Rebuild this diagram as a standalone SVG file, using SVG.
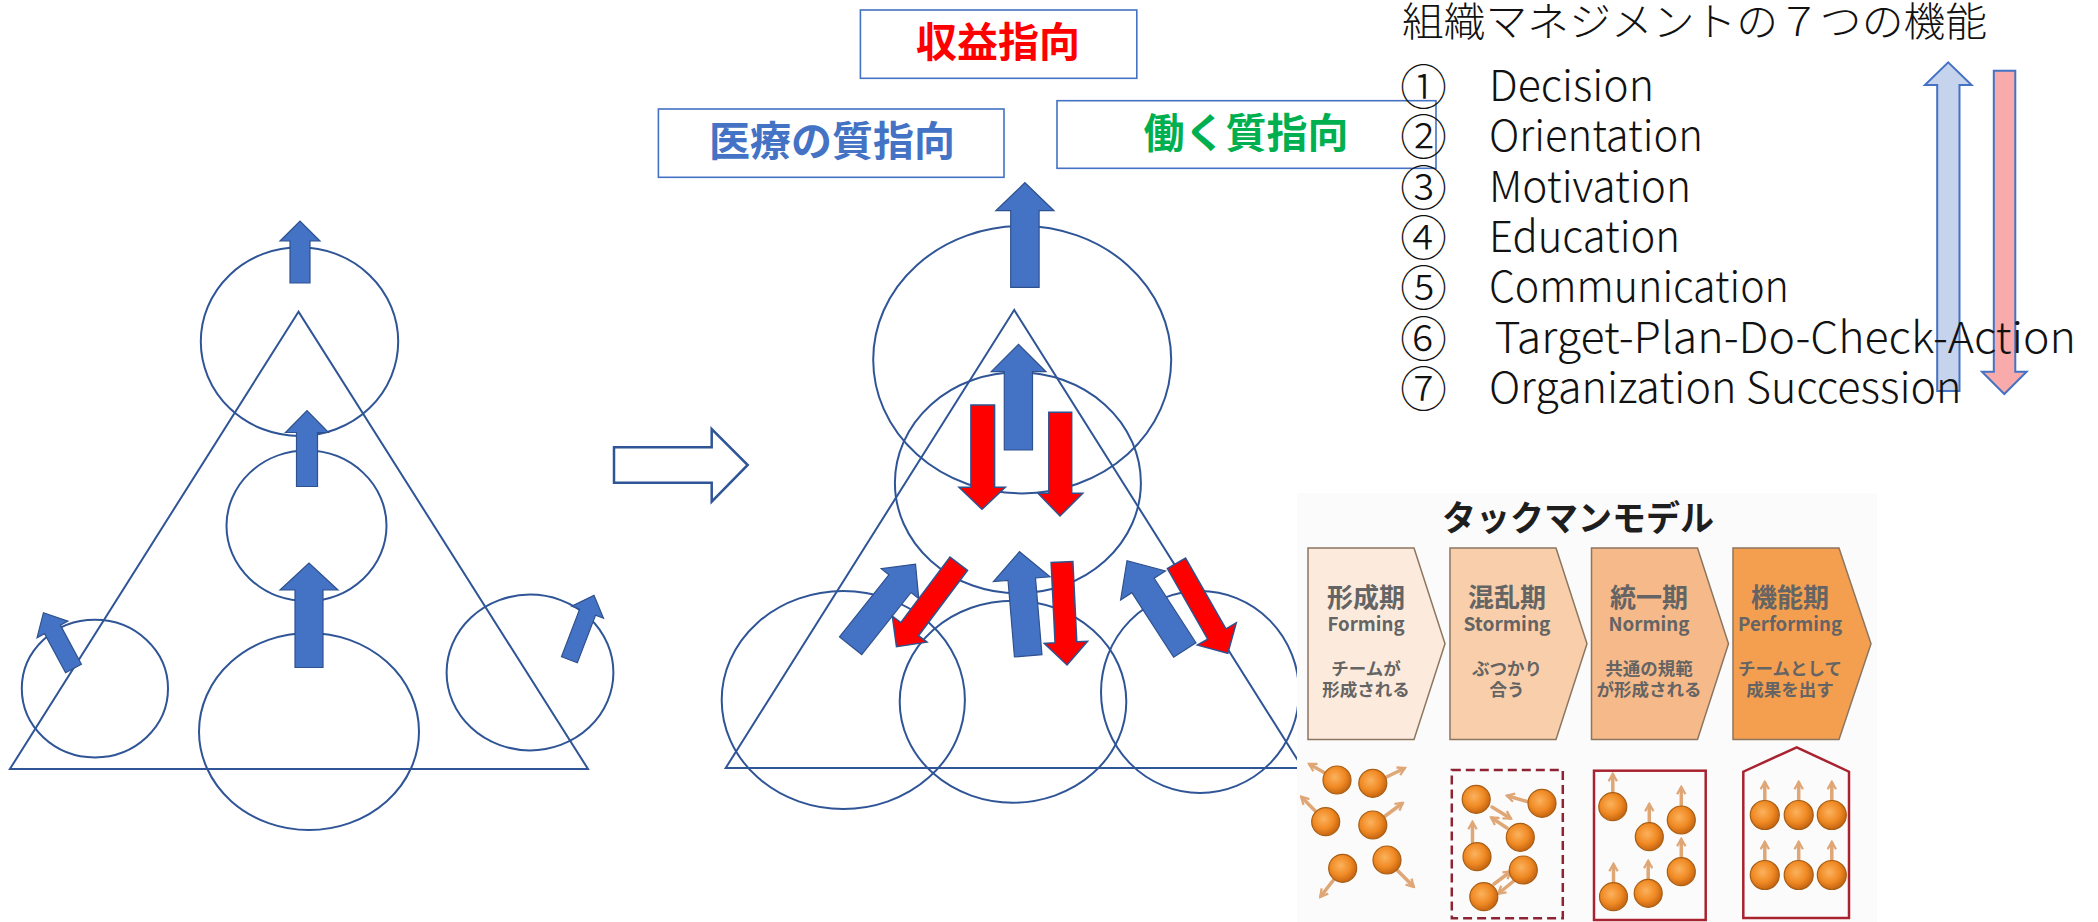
<svg xmlns="http://www.w3.org/2000/svg" width="2098" height="922" viewBox="0 0 2098 922">
  <style>
    .ln { fill: none; stroke: #2F5597; stroke-width: 2; }
    .ba { fill: #4472C4; stroke: #2F528F; stroke-width: 1.2; }
    .ra { fill: #FF0000; stroke: #2F528F; stroke-width: 1.5; }
    .box { fill: #FFFFFF; stroke: #4472C4; stroke-width: 1.6; }
    .lab { font-family: "Noto Sans CJK JP", "Noto Sans", sans-serif; font-weight: bold; font-size: 41px; text-anchor: middle; }
    .jp { font-family: "Noto Sans CJK JP", sans-serif; font-weight: 300; font-size: 40px; fill: #111; }
    .item { font-family: "Noto Sans CJK JP", "Liberation Sans", sans-serif; font-weight: 300; font-size: 43px; fill: #111; }
    .num { font-family: "Noto Sans CJK JP", sans-serif; font-weight: 300; font-size: 47px; fill: #111; }
    .chev { stroke: #8C7660; stroke-width: 1.5; }
    .ct { font-family: "Noto Sans CJK JP", "Noto Sans", sans-serif; font-weight: bold; text-anchor: middle; fill: #646464; }
    .t1 { font-size: 26px; }
    .t2 { font-size: 19px; }
    .t3 { font-size: 17.5px; }
    .ball { fill: url(#ballGrad); stroke: #A85E14; stroke-width: 1.2; }
    .tk { fill: none; stroke: #DFA676; stroke-width: 3.5; stroke-linecap: round; marker-end: url(#tkHead); }
  </style>
  <defs>
    <radialGradient id="ballGrad" cx="0.42" cy="0.4" r="0.6">
      <stop offset="0" stop-color="#FBB25E"/>
      <stop offset="0.6" stop-color="#F08A24"/>
      <stop offset="1" stop-color="#C76612"/>
    </radialGradient>
    <marker id="tkHead" viewBox="0 0 10 10" refX="7" refY="5" markerWidth="3" markerHeight="3" orient="auto">
      <path d="M1,1 L8,5 L1,9" fill="none" stroke="#DFA676" stroke-width="2.2" stroke-linejoin="miter"/>
    </marker>
  </defs>

  <rect width="2098" height="922" fill="#FFFFFF"/>

  <!-- left: before -->
  <g id="pyramid-before">
    <polygon class="ln" points="298.5,311.7 9.9,769 588,769"/>
    <ellipse class="ln" cx="299.5" cy="341.6" rx="98.7" ry="94.3"/>
    <ellipse class="ln" cx="306.5" cy="525.8" rx="80" ry="75.2"/>
    <ellipse class="ln" cx="309" cy="731.5" rx="110" ry="98.5"/>
    <ellipse class="ln" cx="94.9" cy="688.6" rx="73.1" ry="68.8"/>
    <ellipse class="ln" cx="530" cy="672.5" rx="83.4" ry="77.9"/>
    <polygon class="ba" points="290,283 290,241 280,241 300,221 320,241 310,241 310,283"/>
    <polygon class="ba" points="296.5,486.5 296.5,432.5 285.5,432.5 307,410.5 328.5,432.5 317.5,432.5 317.5,486.5"/>
    <polygon class="ba" points="295,667.5 295,590 280,590 309,563 338,590 323,590 323,667.5"/>
    <polygon class="ba" transform="translate(73.5,668.5) rotate(-28.3)" points="-9,0 -9,-44.4 -17.5,-44.4 0,-63.4 17.5,-44.4 9,-44.4 9,0"/>
    <polygon class="ba" transform="translate(569.4,659.8) rotate(20.9)" points="-8.5,0 -8.5,-51 -17,-51 0,-69 17,-51 8.5,-51 8.5,0"/>
  </g>

  <!-- transition arrow -->
  <g id="transition">
    <polygon fill="#FFFFFF" stroke="#2F5597" stroke-width="2.5" points="614,447.3 711.7,447.3 711.7,429 747.7,465 711.7,501.7 711.7,482.7 614,482.7"/>
  </g>

  <!-- orientation labels -->
  <g id="label-profit">
    <rect class="box" x="860.4" y="10" width="276.4" height="68.3"/>
    <text class="lab" x="998" y="57" fill="#FF0000">収益指向</text>
  </g>
  <g id="label-care">
    <rect class="box" x="658.4" y="109" width="345.6" height="68.3"/>
    <text class="lab" x="832" y="156" fill="#4472C4">医療の質指向</text>
  </g>
  <g id="label-work">
    <rect class="box" x="1057" y="100.7" width="379" height="67.6"/>
    <text class="lab" x="1246" y="148" fill="#00B050">働く質指向</text>
  </g>

  <!-- middle: after -->
  <g id="pyramid-after">
    <polygon class="ln" points="1014.2,310 725.7,768 1302.7,768"/>
    <ellipse class="ln" cx="1022.2" cy="359.7" rx="149" ry="133.7"/>
    <ellipse class="ln" cx="1017.9" cy="482.8" rx="123" ry="110.5"/>
    <ellipse class="ln" cx="843.3" cy="700" rx="121.6" ry="109"/>
    <ellipse class="ln" cx="1013" cy="701.7" rx="113.3" ry="101"/>
    <ellipse class="ln" cx="1200" cy="692" rx="99" ry="101"/>
    <polygon class="ba" points="1010.7,287.3 1010.7,210.7 995.8,210.7 1024.9,182.7 1054,210.7 1039.1,210.7 1039.1,287.3"/>
    <polygon class="ba" points="1004.3,450 1004.3,371.7 991.2,371.7 1018.5,344.3 1046,371.7 1032.5,371.7 1032.5,450"/>
    <polygon class="ra" points="970.9,405 994.6,405 994.6,487.3 1005.3,487.3 982,509.3 959,487.3 970.9,487.3"/>
    <polygon class="ra" points="1048.8,412.3 1071.7,412.3 1071.7,493.3 1082.8,493.3 1060,516 1038,493.3 1048.8,493.3"/>
    <polygon class="ba" transform="translate(850.6,645.7) rotate(38.5)" points="-14.2,0 -14.2,-79.3 -24,-79.3 0,-104.3 24,-79.3 14.2,-79.3 14.2,0"/>
    <polygon class="ra" transform="translate(958.8,563.7) rotate(-143.1)" points="-11,0 -11,-81.8 -21.7,-81.8 0,-103.8 21.7,-81.8 11,-81.8 11,0"/>
    <polygon class="ba" transform="translate(1028.2,655.8) rotate(-4.8)" points="-13.8,0 -13.8,-76.9 -28.4,-76.9 0,-104.5 28.4,-76.9 13.8,-76.9 13.8,0"/>
    <polygon class="ra" transform="translate(1062,562) rotate(177.2)" points="-10.9,0 -10.9,-80.4 -21.7,-80.4 0,-103.1 21.7,-80.4 10.9,-80.4 10.9,0"/>
    <polygon class="ba" transform="translate(1184.8,650) rotate(-32.9)" points="-13.3,0 -13.3,-76.9 -26.7,-76.9 0,-106.4 26.7,-76.9 13.3,-76.9 13.3,0"/>
    <polygon class="ra" transform="translate(1176.5,563.3) rotate(150.3)" points="-10.5,0 -10.5,-81.4 -22.4,-81.4 0,-103.6 22.4,-81.4 10.5,-81.4 10.5,0"/>
  </g>

  <!-- seven functions -->
  <g id="functions">
    <polygon fill="#C5D3EC" stroke="#4472C4" stroke-width="2" points="1937.2,391 1937.2,85 1924.9,85 1948.2,62.3 1971.6,85 1959.5,85 1959.5,391"/>
    <polygon fill="#F9AAAA" stroke="#4472C4" stroke-width="2" points="1993.8,70.7 2015.3,70.7 2015.3,371.7 2026.6,371.7 2004.3,394 1982,371.7 1993.8,371.7"/>
    <text class="jp" x="1402" y="36" textLength="585" lengthAdjust="spacingAndGlyphs">組織マネジメントの７つの機能</text>
    <text class="num" x="1400" y="104">①</text>
    <text class="num" x="1400" y="154.3">②</text>
    <text class="num" x="1400" y="204.6">③</text>
    <text class="num" x="1400" y="254.9">④</text>
    <text class="num" x="1400" y="305.2">⑤</text>
    <text class="num" x="1400" y="355.5">⑥</text>
    <text class="num" x="1400" y="405.8">⑦</text>
    <text class="item" x="1489" y="101" textLength="165" lengthAdjust="spacingAndGlyphs">Decision</text>
    <text class="item" x="1489" y="151.3" textLength="214" lengthAdjust="spacingAndGlyphs">Orientation</text>
    <text class="item" x="1489" y="201.6" textLength="202" lengthAdjust="spacingAndGlyphs">Motivation</text>
    <text class="item" x="1489" y="251.9" textLength="191" lengthAdjust="spacingAndGlyphs">Education</text>
    <text class="item" x="1489" y="302.2" textLength="300" lengthAdjust="spacingAndGlyphs">Communication</text>
    <text class="item" x="1494.5" y="352.5" textLength="581.5" lengthAdjust="spacingAndGlyphs">Target-Plan-Do-Check-Action</text>
    <text class="item" x="1489" y="402.8" textLength="472.5" lengthAdjust="spacingAndGlyphs">Organization Succession</text>
  </g>

  <!-- Tuckman model panel -->
  <g id="tuckman">
    <rect x="1297" y="493" width="580" height="429" fill="#FBFBFB"/>
    <text x="1578" y="531" font-family="Noto Sans CJK JP, sans-serif" font-weight="bold" font-size="35" fill="#1E1E1E" text-anchor="middle" textLength="272" lengthAdjust="spacingAndGlyphs">タックマンモデル</text>

    <g id="stage-forming">
      <path class="chev" fill="#FCEBDD" d="M1308,548 H1414 L1445,643.7 L1414,739.5 H1308 Z"/>
      <text class="ct t1" x="1366" y="607">形成期</text>
      <text class="ct t2" x="1366" y="631" textLength="77" lengthAdjust="spacingAndGlyphs">Forming</text>
      <text class="ct t3" x="1366" y="675">チームが</text>
      <text class="ct t3" x="1366" y="696">形成される</text>
    </g>
    <g id="stage-storming">
      <path class="chev" fill="#F9CFAB" d="M1450,548 H1556 L1587,643.7 L1556,739.5 H1450 Z"/>
      <text class="ct t1" x="1507" y="607">混乱期</text>
      <text class="ct t2" x="1507" y="631" textLength="87" lengthAdjust="spacingAndGlyphs">Storming</text>
      <text class="ct t3" x="1507" y="675">ぶつかり</text>
      <text class="ct t3" x="1507" y="696">合う</text>
    </g>
    <g id="stage-norming">
      <path class="chev" fill="#F6B989" d="M1591.5,548 H1697.5 L1728.5,643.7 L1697.5,739.5 H1591.5 Z"/>
      <text class="ct t1" x="1649" y="607">統一期</text>
      <text class="ct t2" x="1649" y="631" textLength="81" lengthAdjust="spacingAndGlyphs">Norming</text>
      <text class="ct t3" x="1649" y="675">共通の規範</text>
      <text class="ct t3" x="1649" y="696">が形成される</text>
    </g>
    <g id="stage-performing">
      <path class="chev" fill="#F49F50" d="M1733,548 H1839 L1871,643.7 L1839,739.5 H1733 Z"/>
      <text class="ct t1" x="1790" y="607" fill="#7A6656">機能期</text>
      <text class="ct t2" x="1790" y="631" fill="#7A6656" textLength="104" lengthAdjust="spacingAndGlyphs">Performing</text>
      <text class="ct t3" x="1790" y="675" fill="#7A6656">チームとして</text>
      <text class="ct t3" x="1790" y="696" fill="#7A6656">成果を出す</text>
    </g>

    <!-- forming: members scatter -->
    <g id="team-forming">
      <path class="tk" d="M1325,773 L1310,764.5"/>
      <path class="tk" d="M1386.5,777 L1404,768.5"/>
      <path class="tk" d="M1316,811.7 L1302,797.5"/>
      <path class="tk" d="M1385.2,816 L1402,803.5"/>
      <path class="tk" d="M1333.5,880 L1321,896"/>
      <path class="tk" d="M1397.5,870.5 L1413,886"/>
      <circle class="ball" cx="1337" cy="780" r="14"/>
      <circle class="ball" cx="1372.8" cy="783.3" r="14"/>
      <circle class="ball" cx="1325.7" cy="821.7" r="14"/>
      <circle class="ball" cx="1372.8" cy="825" r="14"/>
      <circle class="ball" cx="1342.7" cy="868.3" r="14"/>
      <circle class="ball" cx="1387" cy="860" r="14"/>
    </g>

    <!-- storming: members collide -->
    <g id="team-storming">
      <rect x="1451.8" y="770" width="111" height="148.3" fill="none" stroke="#8E2433" stroke-width="2.5" stroke-dasharray="9 5"/>
      <path class="tk" d="M1527,801.5 L1508,796"/>
      <path class="tk" d="M1492,807 L1510,818"/>
      <path class="tk" d="M1507,828 L1492,818"/>
      <path class="tk" d="M1472.5,842 L1472.5,823"/>
      <path class="tk" d="M1494,884 L1510,872"/>
      <path class="tk" d="M1515,880 L1499,893"/>
      <circle class="ball" cx="1476.2" cy="799.3" r="14"/>
      <circle class="ball" cx="1542" cy="803.3" r="14"/>
      <circle class="ball" cx="1520.3" cy="837.3" r="14"/>
      <circle class="ball" cx="1477" cy="856.7" r="14"/>
      <circle class="ball" cx="1523.3" cy="870" r="14"/>
      <circle class="ball" cx="1483.8" cy="896.7" r="14"/>
    </g>

    <!-- norming: shared direction -->
    <g id="team-norming">
      <rect x="1594" y="770.7" width="111.7" height="149.3" fill="none" stroke="#A8232F" stroke-width="2.5"/>
      <path class="tk" d="M1612.8,792 L1612.8,775"/>
      <path class="tk" d="M1649.3,822 L1649.3,805"/>
      <path class="tk" d="M1681.3,805 L1681.3,788"/>
      <path class="tk" d="M1613.5,882 L1613.5,865"/>
      <path class="tk" d="M1648.2,879 L1648.2,862"/>
      <path class="tk" d="M1681.3,857 L1681.3,840"/>
      <circle class="ball" cx="1612.8" cy="806.7" r="14"/>
      <circle class="ball" cx="1649.3" cy="836.7" r="14"/>
      <circle class="ball" cx="1681.3" cy="820" r="14"/>
      <circle class="ball" cx="1613.5" cy="896.7" r="14"/>
      <circle class="ball" cx="1648.2" cy="893.3" r="14"/>
      <circle class="ball" cx="1681.3" cy="871.7" r="14"/>
    </g>

    <!-- performing: aligned team -->
    <g id="team-performing">
      <polygon points="1743.3,918 1743.3,771.7 1796.7,747.3 1849,771.7 1849,918" fill="none" stroke="#A8232F" stroke-width="2.5"/>
      <path class="tk" d="M1764.8,800 L1764.8,783"/>
      <path class="tk" d="M1798.7,800 L1798.7,783"/>
      <path class="tk" d="M1831.8,800 L1831.8,783"/>
      <path class="tk" d="M1764.8,860 L1764.8,843"/>
      <path class="tk" d="M1798.7,860 L1798.7,843"/>
      <path class="tk" d="M1831.8,860 L1831.8,843"/>
      <circle class="ball" cx="1764.8" cy="815" r="14.5"/>
      <circle class="ball" cx="1798.7" cy="815" r="14.5"/>
      <circle class="ball" cx="1831.8" cy="815" r="14.5"/>
      <circle class="ball" cx="1764.8" cy="875" r="14.5"/>
      <circle class="ball" cx="1798.7" cy="875" r="14.5"/>
      <circle class="ball" cx="1831.8" cy="875" r="14.5"/>
    </g>
  </g>
</svg>
